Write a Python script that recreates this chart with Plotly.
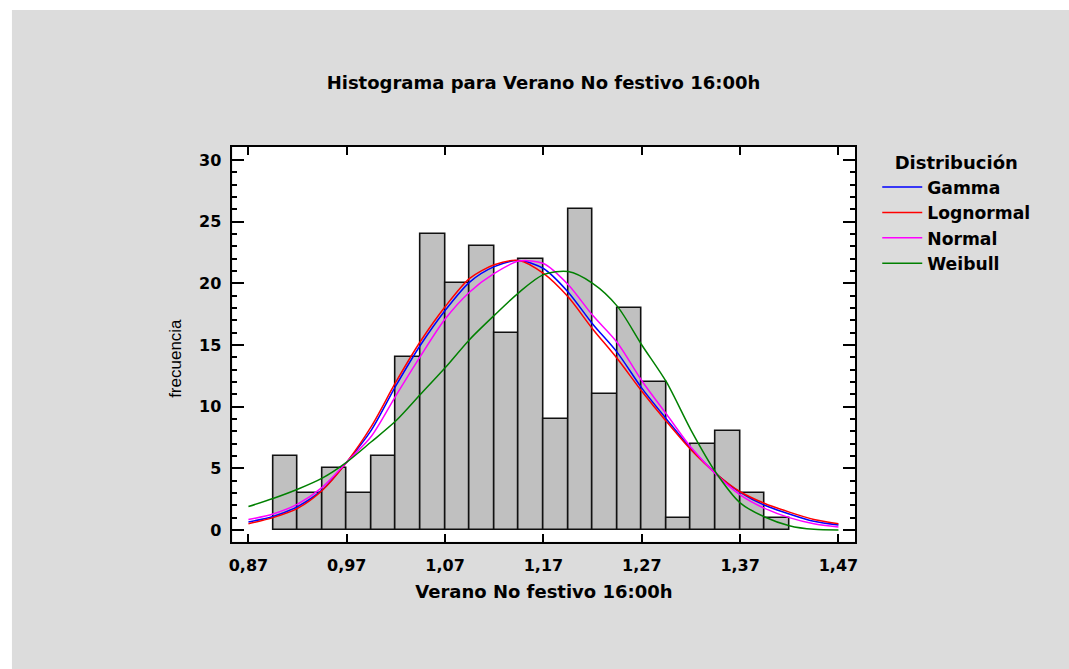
import plotly.graph_objects as go

W, H = 1069, 669

# ---- data ----
bin_starts = [0.895, 0.92, 0.945, 0.97, 0.995, 1.02, 1.045, 1.07, 1.095, 1.12, 1.145,
              1.17, 1.195, 1.22, 1.245, 1.27, 1.295, 1.32, 1.345, 1.37, 1.395]
counts = [6, 3, 5, 3, 6, 14, 24, 20, 23, 16, 22, 9, 26, 11, 18, 12, 1, 7, 8, 3, 1]
bin_width = 0.025

curve_x = [0.87, 0.895, 0.92, 0.945, 0.97, 0.995, 1.02, 1.045, 1.07, 1.095, 1.12, 1.145,
           1.17, 1.195, 1.22, 1.245, 1.27, 1.295, 1.32, 1.345, 1.37, 1.395, 1.42, 1.445, 1.47]
gamma = [0.65, 1.1, 1.9, 3.25, 5.5, 8.1, 11.7, 15.0, 17.8, 20.1, 21.35, 21.85,
         21.2, 19.3, 16.7, 14.4, 11.5, 9.0, 6.6, 4.6, 3.05, 2.0, 1.3, 0.7, 0.4]
lognormal = [0.5, 1.0, 1.75, 3.2, 5.5, 8.4, 12.0, 15.3, 18.1, 20.4, 21.5, 21.85,
             20.8, 18.9, 16.3, 13.9, 11.25, 8.8, 6.5, 4.6, 3.1, 2.15, 1.45, 0.85, 0.5]
normal = [0.85, 1.3, 2.1, 3.45, 5.5, 7.6, 10.9, 14.1, 17.1, 19.3, 20.8, 21.8,
          21.6, 19.9, 17.4, 15.2, 12.1, 9.4, 6.7, 4.55, 2.85, 1.75, 1.0, 0.5, 0.25]
weibull = [1.9, 2.55, 3.3, 4.2, 5.5, 7.15, 8.85, 11.0, 13.15, 15.45, 17.4, 19.25,
           20.7, 20.95, 20.0, 18.15, 15.0, 12.0, 8.1, 4.7, 2.2, 1.05, 0.35, 0.05, 0.0]

x_tickvals = [0.87, 0.97, 1.07, 1.17, 1.27, 1.37, 1.47]
x_ticktext = ["0,87", "0,97", "1,07", "1,17", "1,27", "1,37", "1,47"]
y_tickvals = [0, 5, 10, 15, 20, 25, 30]

title_text = "Histograma para Verano No festivo 16:00h"
x_title = "Verano No festivo 16:00h"
y_title = "frecuencia"
legend_title = "Distribución"

BFONT = "DejaVu Sans, Verdana, sans-serif"
RFONT = "Liberation Sans, Arial, sans-serif"

fig = go.Figure()
fig.add_trace(go.Bar(
    x=bin_starts, y=counts, width=bin_width, offset=0,
    marker=dict(color="#C0C0C0", line=dict(color="#111111", width=1.6)),
    showlegend=False, hoverinfo="skip"))

series = [("Gamma", gamma, "#0000FF"), ("Lognormal", lognormal, "#FF0000"),
          ("Normal", normal, "#FF00FF"), ("Weibull", weibull, "#008000")]
for name, vals, col in series:
    fig.add_trace(go.Scatter(x=curve_x, y=vals, mode="lines", name=name,
                             line=dict(color=col, width=1.5, shape="spline", smoothing=0.8)))

px0, px1, py0, py1 = 230, 857, 147, 541.7
fig.update_layout(
    width=W, height=H,
    margin=dict(l=0, r=0, t=0, b=0),
    paper_bgcolor="white", plot_bgcolor="white",
    font=dict(family=BFONT, color="black", size=16),
    title=dict(text="<b>%s</b>" % title_text, x=543.5 / W, xanchor="center",
               y=1 - 83 / H, yanchor="middle", font=dict(size=18, family=BFONT)),
    bargap=0,
    shapes=[
        dict(type="rect", xref="paper", yref="paper", x0=8 / W, x1=1.05, y0=-0.05, y1=1 - 10 / H,
             fillcolor="#DCDCDC", line=dict(width=0), layer="below"),
        dict(type="rect", xref="x domain", yref="y domain", x0=0, x1=1, y0=0, y1=1,
             fillcolor="white", line=dict(width=0), layer="below"),
    ],
    annotations=[
        dict(text=y_title, xref="paper", yref="paper", x=173 / W, y=1 - 358 / H,
             xanchor="center", yanchor="middle", textangle=-90, showarrow=False,
             font=dict(size=17, family=RFONT, color="black")),
    ],
    legend=dict(
        x=879 / W, xanchor="left", y=1 - 146 / H, yanchor="top",
        bgcolor="rgba(0,0,0,0)",
        font=dict(size=17.2, family=BFONT, weight="bold"),
        title=dict(text="<b>%s</b>" % legend_title, side="top center",
                   font=dict(size=18, family=BFONT)),
        itemwidth=40, tracegroupgap=0,
    ),
    xaxis=dict(
        domain=[px0 / W, px1 / W],
        range=[0.8538, 1.4872],
        tickvals=x_tickvals, ticktext=x_ticktext,
        ticks="inside", ticklen=8, tickwidth=2, tickcolor="black",
        showline=True, linecolor="black", linewidth=2, mirror="ticks",
        showgrid=False, zeroline=False,
        tickfont=dict(size=16, family=BFONT, weight="bold"),
        ticklabelstandoff=8,
        title=dict(text="<b>%s</b>" % x_title, font=dict(size=18, family=BFONT), standoff=11),
    ),
    yaxis=dict(
        domain=[1 - py1 / H, 1 - py0 / H],
        range=[-0.95, 31.05],
        tickvals=y_tickvals,
        ticks="inside", ticklen=12, tickwidth=2, tickcolor="black",
        minor=dict(dtick=1, ticks="inside", ticklen=5, tickwidth=1.5, tickcolor="black"),
        showline=True, linecolor="black", linewidth=2, mirror="ticks",
        showgrid=False, zeroline=False,
        tickfont=dict(size=16, family=BFONT, weight="bold"),
        ticklabelstandoff=6,
    ),
)

fig.write_html("out.html")
